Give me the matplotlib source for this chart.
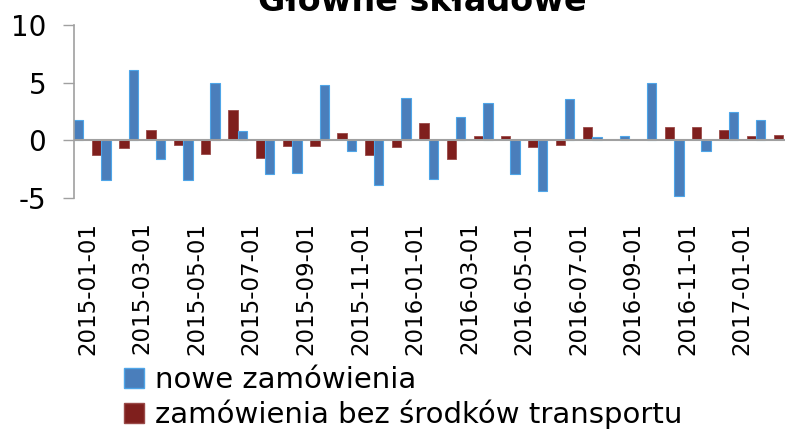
import numpy as np
import matplotlib
matplotlib.use("Agg")
import matplotlib.pyplot as plt
from matplotlib.patches import Patch

months = ["2015-01-01", "2015-02-01", "2015-03-01", "2015-04-01", "2015-05-01", "2015-06-01",
          "2015-07-01", "2015-08-01", "2015-09-01", "2015-10-01", "2015-11-01", "2015-12-01",
          "2016-01-01", "2016-02-01", "2016-03-01", "2016-04-01", "2016-05-01", "2016-06-01",
          "2016-07-01", "2016-08-01", "2016-09-01", "2016-10-01", "2016-11-01", "2016-12-01",
          "2017-01-01", "2017-02-01", "2017-03-01"]
nowe = [1.8, -3.45, 6.1, -1.6, -3.45, 5.0, 0.8, -2.9, -2.8, 4.8, -0.95, -3.9,
        3.7, -3.35, 2.05, 3.25, -2.9, -4.35, 3.6, 0.25, 0.35, 5.0, -4.8, -0.95,
        2.45, 1.8, np.nan]
bez_transportu = [np.nan, -1.25, -0.7, 0.9, -0.4, -1.15, 2.6, -1.5, -0.5, -0.5, 0.6, -1.25,
                  -0.6, 1.5, -1.6, 0.4, 0.4, -0.6, -0.4, 1.15, 0.0, 0.15, 1.15, 1.15,
                  0.9, 0.4, 0.5]
labels_nowe = "nowe zamówienia"
labels_bez = "zamówienia bez środków transportu"
title = "Główne składowe"

W, H = 785, 432
fig = plt.figure(figsize=(W / 100, H / 100), dpi=100)
ax = fig.add_axes([74 / W, 1 - 198 / H, (785 - 74) / W, (198 - 25) / H])

x = np.arange(len(months))
w = 0.345
blue = "#4A7EBB"
blue_edge = "#4EA5E8"
red = "#7F1F1D"
red_edge = "#9A4A48"
ax.bar(x - w / 2, bez_transportu, width=w, color=red, edgecolor=red_edge, linewidth=0.6, zorder=2)
ax.bar(x + w / 2, nowe, width=w, color=blue, edgecolor=blue_edge, linewidth=0.8, zorder=2)

ax.set_xlim(0, (785 - 74) / 27.28)
ax.set_ylim(-5, 10)
ax.set_yticks([-5, 0, 5, 10])
ax.set_yticklabels(["-5", "0", "5", "10"], fontsize=20)
ax.tick_params(axis="y", length=8, width=1, color="#A0A0A0", pad=12)

ax.axhline(0, color="#A0A0A0", linewidth=1.5, zorder=3)
for s in ["top", "right", "bottom"]:
    ax.spines[s].set_visible(False)
ax.spines["left"].set_color("#A0A0A0")
ax.spines["left"].set_linewidth(1.2)

tick_idx = x[:25:2]
ax.set_xticks(tick_idx + 0.5)
ax.set_xticklabels([months[i] for i in tick_idx], rotation=90, fontsize=16.5)
ax.tick_params(axis="x", length=0, pad=17)

fig.text(422 / W, 1 - 11 / H, title, ha="center", va="baseline", fontsize=24, fontweight="bold")

handles = [Patch(facecolor=blue, edgecolor=blue_edge, label=labels_nowe),
           Patch(facecolor=red, edgecolor=red_edge, label=labels_bez)]
fig.legend(handles=handles, loc="upper left", bbox_to_anchor=(124 / W, 1 - 366 / H),
           frameon=False, fontsize=21, handlelength=0.7, handleheight=0.7,
           handletextpad=0.35, labelspacing=0.2, borderaxespad=0, borderpad=0)

fig.savefig("out.png", dpi=100)
